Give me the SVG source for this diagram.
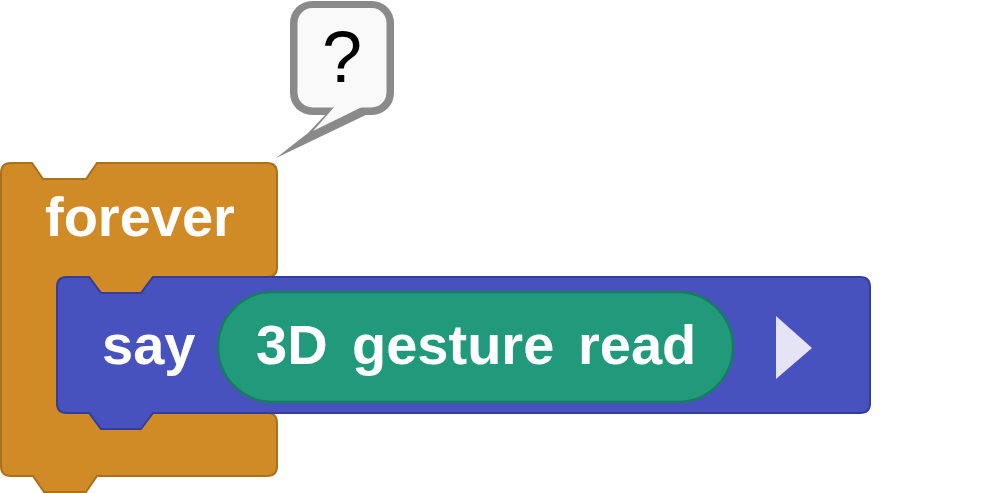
<svg xmlns="http://www.w3.org/2000/svg" width="989" height="493" viewBox="0 0 989 493">
<style>
.lbl{font-family:"Liberation Sans",Arial,sans-serif;font-weight:bold;font-size:56px;fill:#ffffff}
.ctl{fill:#d18b26;stroke:#a9701e;stroke-width:2}
.say{fill:#4852be;stroke:#343d9a;stroke-width:2}
.rep{fill:#209a7a;stroke:#197c62;stroke-width:2.5}
.bo{fill:#8a8a8a}
.bi{fill:#f9f9f9}
</style>
<rect width="989" height="493" fill="#ffffff"/>
<g id="bubble">
<rect class="bo" x="290" y="1" width="104" height="114" rx="22" ry="22"/>
<polygon class="bo" points="328,112 308,133 276,158 372,112"/>
<rect class="bi" x="297.5" y="8" width="89" height="99.5" rx="15" ry="15"/>
<polygon class="bi" points="336,105 313,131 366,105"/>
<text x="342" y="82" text-anchor="middle" font-family="'Liberation Sans',Arial,sans-serif" font-size="72" fill="#000000">?</text>
</g>
<g id="forever">
<path class="ctl" d="M 11 163 H 32 L 43 179 H 86 L 97 163 H 267 Q 277 163 277 173 V 267 Q 277 277 267 277 H 153 L 141 293 H 101 L 89 277 H 67 Q 57 277 57 287 V 403 Q 57 413 67 413 H 267 Q 277 413 277 423 V 466 Q 277 476 267 476 H 97 L 86 492 H 44 L 33 476 H 11 Q 1 476 1 466 V 173 Q 1 163 11 163 Z"/>
<text class="lbl" x="45" y="236">forever</text>
</g>
<g id="say">
<path class="say" d="M 67 277 H 89 L 101 293 H 141 L 153 277 H 860 Q 870 277 870 287 V 403 Q 870 413 860 413 H 153 L 141 429 H 101 L 89 413 H 67 Q 57 413 57 403 V 287 Q 57 277 67 277 Z"/>
<text class="lbl" x="102" y="364">say</text>
<polygon points="776,316 812,348 776,379" fill="#e4e4f4"/>
</g>
<g id="reporter">
<rect class="rep" x="218" y="292" width="515" height="110" rx="55" ry="55"/>
<text class="lbl" x="256" y="364">3D</text>
<text class="lbl" x="352" y="364">gesture</text>
<text class="lbl" x="578" y="364">read</text>
</g>
<g id="connectors"></g>
</svg>
